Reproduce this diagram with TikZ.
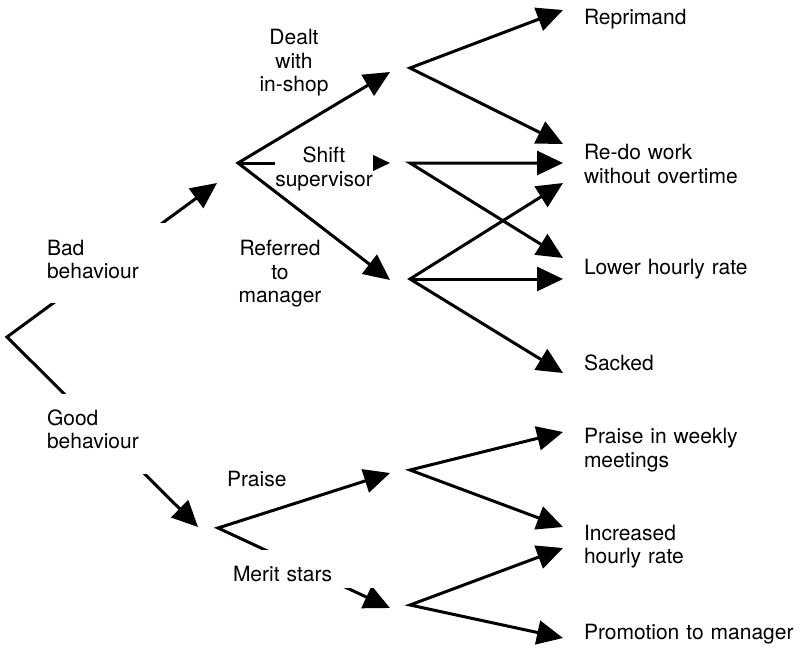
\documentclass[tikz,border=0pt]{standalone}
\usepackage{fontspec}
\setmainfont{TeX Gyre Heros}
\usetikzlibrary{arrows.meta}
\begin{document}
\begin{tikzpicture}[x=1pt,y=-1pt,
  tip/.tip={Triangle[length=26pt,width=24pt]},
  conn/.style={line width=3pt, line join=miter, -tip},
  fork/.style={line width=3pt, line join=miter, tip-tip},
  lbl/.style={font=\fontsize{21}{23.5}\selectfont, inner sep=0pt, outer sep=0pt},
  leftlbl/.style={lbl, anchor=base west, align=left, text width=#1},
  midlbl/.style={lbl, anchor=base, align=center, text width=#1},
  cover/.style={fill=white}
]
\useasboundingbox (0,0) rectangle (801,651);

% branch points and arrow tips
\coordinate (root) at (7,337);
\coordinate (bT) at (217,183);
\coordinate (b) at (238,163);
\coordinate (gT) at (198,527);
\coordinate (g) at (218,528);
\coordinate (b1T) at (390,72);
\coordinate (b2T) at (390,163);
\coordinate (b3T) at (390,280);
\coordinate (g1T) at (390,473);
\coordinate (g2T) at (390,608);
\coordinate (c1) at (410,68);
\coordinate (c2) at (410,163);
\coordinate (c3) at (410,279);
\coordinate (c4) at (410,470);
\coordinate (c5) at (410,605);
\coordinate (rep) at (563,10);
\coordinate (redoA) at (563,144);
\coordinate (redoB) at (563,163);
\coordinate (redoC) at (563,183);
\coordinate (lowA) at (563,258);
\coordinate (lowB) at (563,279);
\coordinate (sack) at (563,373);
\coordinate (pw) at (563,432);
\coordinate (incA) at (563,527);
\coordinate (incB) at (563,548);
\coordinate (prom) at (563,638);

% connectors
\draw[fork] (bT) -- (root) -- (gT);
\draw[fork] (b1T) -- (b) -- (b3T);
\draw[conn] (b) -- (b2T);
\draw[fork] (g1T) -- (g) -- (g2T);
\draw[fork] (rep) -- (c1) -- (redoA);
\draw[fork] (redoB) -- (c2) -- (lowA);
\draw[fork] (redoC) -- (c3) -- (sack);
\draw[conn] (c3) -- (lowB);
\draw[fork] (pw) -- (c4) -- (incA);
\draw[fork] (incB) -- (c5) -- (prom);

% labels with opaque boxes over the lines
\node[leftlbl=123pt, cover, text height=32pt, text depth=48pt] (bad) at (47,255) {Bad\\behaviour};
\node[leftlbl=123pt, cover, text height=31pt, text depth=49pt] (good) at (47,425) {Good\\behaviour};
\node[midlbl=98pt, cover, text height=17.5pt, text depth=26.5pt] (shift) at (324,162.5) {Shift\\supervisor};
\node[leftlbl=150pt, cover, text height=31pt, text depth=7pt] (merit) at (230,581) {\hspace*{3pt}Merit stars};

% other labels
\node[midlbl=110pt] (dealt) at (294,44.5) {Dealt\\with\\in-shop};
\node[midlbl=110pt] (referred) at (280,255.5) {Referred\\to\\manager};
\node[leftlbl=100pt] (praise) at (227,486) {Praise};

\node[leftlbl=215pt] (reprimand) at (584,24) {Reprimand};
\node[leftlbl=215pt] (redo) at (584,159.5) {Re-do work\\without overtime};
\node[leftlbl=215pt] (lower) at (584,274) {Lower hourly rate};
\node[leftlbl=215pt] (sacked) at (584,370) {Sacked};
\node[leftlbl=215pt] (weekly) at (584,443.5) {Praise in weekly\\meetings};
\node[leftlbl=215pt] (increased) at (584,540) {Increased\\hourly rate};
\node[leftlbl=215pt] (promotion) at (584,639) {Promotion to manager};
\end{tikzpicture}
\end{document}
